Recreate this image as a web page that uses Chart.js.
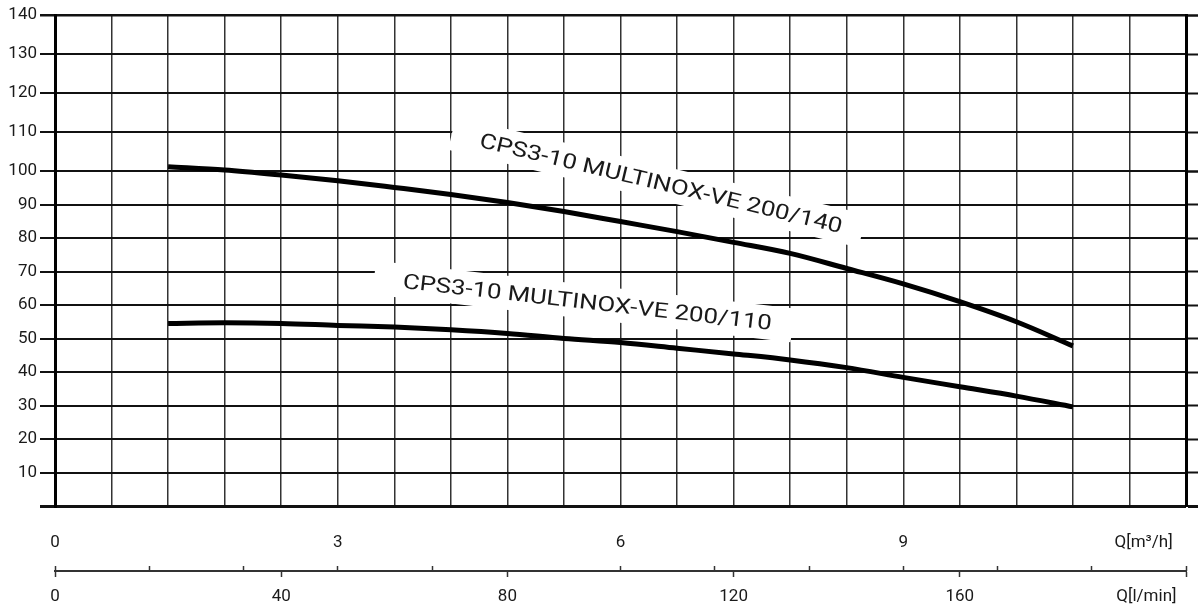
<!DOCTYPE html>
<html>
<head>
<meta charset="utf-8">
<script src="https://cdn.jsdelivr.net/npm/chart.js@4.4.1/dist/chart.umd.min.js"></script>
<style>
  html, body { margin: 0; padding: 0; background: #fff; }
  #chart-container { width: 1198px; height: 612px; }
</style>
</head>
<body>
<div id="chart-container"><canvas id="pumpChart"></canvas></div>
<script>
// flow in l/min, head in m
const flow = [20, 30, 40, 50, 60, 70, 80, 90, 100, 110, 120, 130, 140, 150, 160, 170, 180];
const head140 = [101.3, 100.3, 98.8, 97.1, 95.1, 93.0, 90.6, 87.9, 84.9, 81.9, 78.7, 75.4, 70.9, 66.3, 61.0, 55.0, 47.8];
const head110 = [54.5, 54.7, 54.5, 53.9, 53.4, 52.6, 51.5, 50.0, 48.8, 47.1, 45.4, 43.6, 41.3, 38.4, 35.6, 32.8, 29.6];

const headTicksLow = [0, 10, 20, 30, 40, 50, 60, 70, 80, 90, 100];
const headTicksHigh = [100, 110, 120, 130, 140];
const flowGrid = [0, 10, 20, 30, 40, 50, 60, 70, 80, 90, 100, 110, 120, 130, 140, 150, 160, 170, 180, 190, 200];

// lower axes: m3/h row and l/min row (last entry carries the unit text)
const m3Ticks = [0, 3, 6, 9, 11.55];
const m3Labels = ['0', '3', '6', '9', 'Q[m³/h]'];
const m3Marks = [0, 1, 2, 3, 4, 6, 7, 8, 9, 10, 11, 12];
const lminTicks = [0, 40, 80, 120, 160, 193.0, 200];
const lminLabels = ['0', '40', '80', '120', '160', 'Q[l/min]', ''];

const curveNames = ['CPS3-10 MULTINOX-VE 200/140', 'CPS3-10 MULTINOX-VE 200/110'];

const FONT = { family: 'Roboto', size: 17 };
const INK = '#1a1a1a';

// text placed along the curves, anchored in data units
const curveLabels = [
  { text: curveNames[0], flow: 74.9, head: 106.2, axis: 'yTop', angle: 13.4, length: 372 },
  { text: curveNames[1], flow: 61.4, head: 65.1, axis: 'y', angle: 6.5, length: 371 }
];

const curveLabelPlugin = {
  id: 'curveLabels',
  beforeDatasetsDraw(chart) {
    const ctx = chart.ctx;
    const xs = chart.scales.x;
    curveLabels.forEach(lb => {
      const ys = chart.scales[lb.axis];
      ctx.save();
      ctx.translate(xs.getPixelForValue(lb.flow), ys.getPixelForValue(lb.head));
      ctx.rotate(lb.angle * Math.PI / 180);
      ctx.font = '21px Roboto';
      const w = ctx.measureText(lb.text).width;
      // white mask behind the text
      ctx.fillStyle = '#fff';
      ctx.fillRect(-29, -24, lb.length + 50, 34);
      ctx.scale(lb.length / w, 1);
      ctx.fillStyle = INK;
      ctx.textBaseline = 'alphabetic';
      ctx.fillText(lb.text, 0, 0);
      ctx.restore();
    });
  }
};

function fixedTicks(values) {
  return scale => { scale.ticks = values.map(v => ({ value: v })); };
}

function noSidePadding(s) {
  s.paddingLeft = 0;
  s.paddingRight = 0;
}

const ctx = document.getElementById('pumpChart').getContext('2d');
new Chart(ctx, {
  type: 'line',
  data: {
    datasets: [
      {
        label: curveNames[0],
        data: flow.map((q, i) => ({ x: q, y: head140[i] })),
        borderColor: '#000', borderWidth: 5, pointRadius: 0,
        cubicInterpolationMode: 'monotone', borderCapStyle: 'butt',
        clip: false, xAxisID: 'x', yAxisID: 'y'
      },
      {
        label: curveNames[1],
        data: flow.map((q, i) => ({ x: q, y: head110[i] })),
        borderColor: '#000', borderWidth: 5, pointRadius: 0,
        cubicInterpolationMode: 'monotone', borderCapStyle: 'butt',
        clip: false, xAxisID: 'x', yAxisID: 'y'
      }
    ]
  },
  options: {
    responsive: true,
    maintainAspectRatio: false,
    animation: false,
    events: [],
    layout: { padding: { top: 15, left: 0, right: 0, bottom: 0 } },
    plugins: { legend: { display: false }, tooltip: { enabled: false } },
    scales: {
      x: {
        type: 'linear', position: 'bottom', min: 0, max: 200, weight: 0,
        afterBuildTicks: fixedTicks(flowGrid),
        grid: { color: '#333', lineWidth: 1.5, drawTicks: false },
        border: { display: false },
        ticks: { display: false, autoSkip: false },
        afterFit: s => { s.height = 0; noSidePadding(s); }
      },
      xm: {
        type: 'linear', position: 'bottom', min: 0, max: 12, weight: 1,
        afterBuildTicks: fixedTicks(m3Ticks),
        grid: { display: false, drawTicks: false },
        border: { display: false },
        ticks: {
          font: FONT, color: INK, padding: 27, autoSkip: false, maxRotation: 0,
          callback: (v, i) => m3Labels[i]
        },
        afterFit: s => { s.height = 60; noSidePadding(s); }
      },
      xmt: {
        type: 'linear', position: 'bottom', min: 0, max: 12, weight: 2,
        afterBuildTicks: fixedTicks(m3Marks),
        grid: { drawOnChartArea: false, drawTicks: true, tickLength: 5, tickWidth: 1.5, tickColor: '#333' },
        border: { display: false },
        ticks: { display: false, autoSkip: false },
        afterFit: s => { s.height = 5; noSidePadding(s); }
      },
      xl: {
        type: 'linear', position: 'bottom', min: 0, max: 200, weight: 3,
        afterBuildTicks: fixedTicks(lminTicks),
        grid: {
          drawOnChartArea: false, drawTicks: true, tickLength: 6, tickWidth: 1.5,
          tickColor: c => (lminLabels[c.index] && lminLabels[c.index].startsWith('Q')) ? 'rgba(0,0,0,0)' : '#333'
        },
        border: { display: true, color: '#333', width: 2 },
        ticks: {
          font: FONT, color: INK, padding: 10, autoSkip: false, maxRotation: 0,
          callback: (v, i) => lminLabels[i]
        },
        afterFit: s => { s.height = 41; noSidePadding(s); }
      },
      y: {
        type: 'linear', position: 'left', min: 0, max: 100, weight: 0,
        stack: 'head', stackWeight: 335,
        afterBuildTicks: fixedTicks(headTicksLow),
        grid: {
          color: '#111', lineWidth: c => c.tick && c.tick.value === 0 ? 3 : 2,
          drawTicks: true, tickLength: 15,
          tickWidth: c => c.tick && c.tick.value === 0 ? 3 : 2, tickColor: '#111'
        },
        border: { display: true, color: '#000', width: 3 },
        ticks: { font: FONT, color: INK, padding: 3, autoSkip: false, callback: v => v === 0 ? '' : String(v) },
        afterFit: s => { s.width = 55; }
      },
      yTop: {
        type: 'linear', position: 'left', min: 100, max: 140, weight: 1,
        stack: 'head', stackWeight: 156,
        afterBuildTicks: fixedTicks(headTicksHigh),
        grid: {
          color: '#111', lineWidth: c => c.tick && c.tick.value === 140 ? 2.5 : 2,
          drawTicks: true, tickLength: 15,
          tickWidth: c => c.tick && c.tick.value === 140 ? 2.5 : 2, tickColor: '#111'
        },
        border: { display: true, color: '#000', width: 3 },
        ticks: { font: FONT, color: INK, padding: 3, autoSkip: false, callback: v => v === 100 ? '' : String(v) },
        afterFit: s => { s.width = 55; }
      },
      yRTop: {
        type: 'linear', position: 'right', min: 100, max: 140, weight: 0,
        stack: 'headR', stackWeight: 156,
        afterBuildTicks: fixedTicks(headTicksHigh),
        grid: {
          drawOnChartArea: false, drawTicks: true, tickLength: 12,
          tickWidth: c => c.tick && c.tick.value === 140 ? 2.5 : 2, tickColor: '#111'
        },
        border: { display: true, color: '#000', width: 3 },
        ticks: { display: false, autoSkip: false },
        afterFit: s => { s.width = 12; }
      },
      yR: {
        type: 'linear', position: 'right', min: 0, max: 100, weight: 1,
        stack: 'headR', stackWeight: 335,
        afterBuildTicks: fixedTicks(headTicksLow),
        grid: {
          drawOnChartArea: false, drawTicks: true, tickLength: 12,
          tickWidth: c => c.tick && c.tick.value === 0 ? 3 : 2, tickColor: '#111'
        },
        border: { display: true, color: '#000', width: 3 },
        ticks: { display: false, autoSkip: false },
        afterFit: s => { s.width = 12; }
      }
    }
  },
  plugins: [curveLabelPlugin]
});
</script>
</body>
</html>
